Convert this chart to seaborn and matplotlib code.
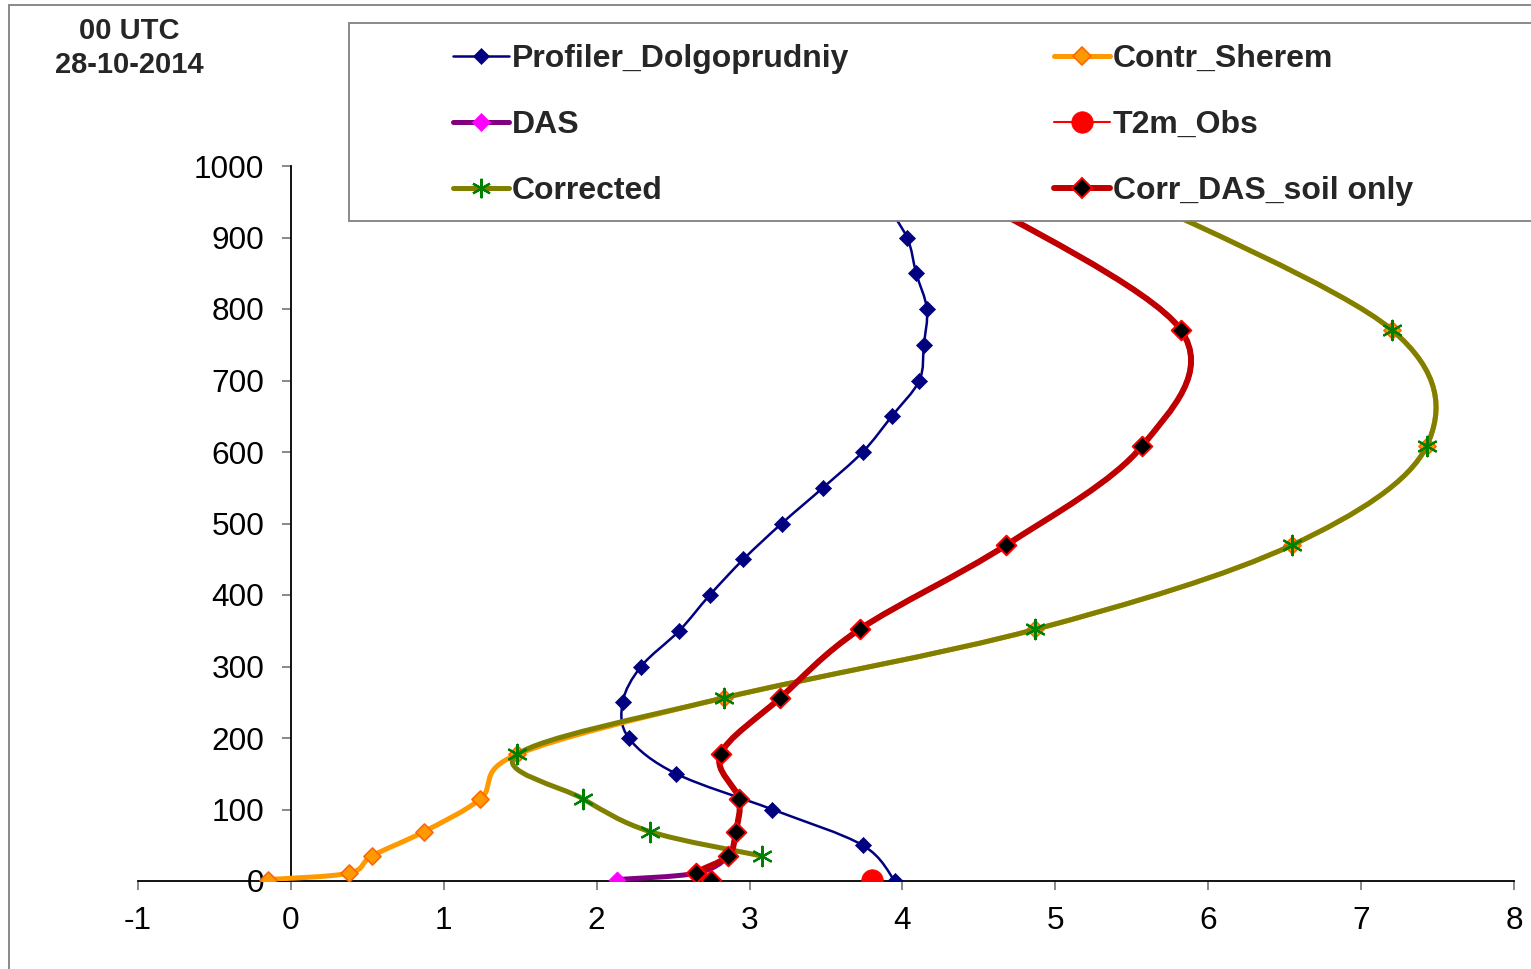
import numpy as np
import pandas as pd
import matplotlib
matplotlib.use("Agg")
import matplotlib.pyplot as plt
from matplotlib.path import Path
from matplotlib.patches import PathPatch, Rectangle
from matplotlib.lines import Line2D
import seaborn as sns

# profiler levels (m) and temperatures (C)
prof_h = [0, 50, 100, 150, 200, 250, 300, 350, 400, 450, 500, 550, 600,
          650, 700, 750, 800, 850, 900, 950]
prof_t = [3.95, 3.74, 3.15, 2.52, 2.21, 2.17, 2.29, 2.54, 2.74, 2.96, 3.21,
          3.48, 3.74, 3.93, 4.11, 4.14, 4.16, 4.09, 4.03, 3.88]

# model levels
mod_h = [2, 11, 35, 69, 115, 177, 256, 352, 470, 609, 771, 960]
contr_t = [-0.15, 0.38, 0.53, 0.87, 1.24, 1.48, 2.83, 4.87, 6.55, 7.43, 7.20, 5.50]
das_t = [2.13, 2.65, 2.86, 2.91, 2.93, 2.81, 3.20, 3.72, 4.68, 5.57, 5.82, 4.43]
corr_das_t = [2.75, 2.65, 2.86, 2.91, 2.93, 2.81, 3.20, 3.72, 4.68, 5.57, 5.82, 4.43]

corr_h = [35, 69, 115, 177, 256, 352, 470, 609, 771, 960]
corr_t = [3.08, 2.35, 1.91, 1.48, 2.83, 4.87, 6.55, 7.43, 7.20, 5.50]

t2m_h = [2]
t2m_t = [3.80]

x_ticks = [-1, 0, 1, 2, 3, 4, 5, 6, 7, 8]
y_ticks = [0, 100, 200, 300, 400, 500, 600, 700, 800, 900, 1000]


def smooth_path(xs, ys):
    # Excel-like smoothed line: Catmull-Rom segments as cubic Bezier curves
    pts = np.column_stack([xs, ys]).astype(float)
    n = len(pts)
    verts = [pts[0]]
    codes = [Path.MOVETO]
    for i in range(n - 1):
        p0 = pts[i - 1] if i > 0 else pts[i]
        p1, p2 = pts[i], pts[i + 1]
        p3 = pts[i + 2] if i + 2 < n else pts[i + 1]
        verts += [p1 + (p2 - p0) / 6, p2 - (p3 - p1) / 6, p2]
        codes += [Path.CURVE4] * 3
    return Path(verts, codes)


sns.set_style("white")
plt.rcParams['font.family'] = ['Liberation Sans', 'DejaVu Sans']
plt.rcParams['axes.unicode_minus'] = False

W, H = 1531, 969
fig = plt.figure(figsize=(W / 100, H / 100), dpi=100)
ax = fig.add_axes([138 / W, 88 / H, 1376 / W, 715 / H])

series = [
    # name, heights, temps, line colour, line width, marker, size, face, edge, edge width
    ("Profiler_Dolgoprudniy", prof_h, prof_t, "#000080", 1.8, "D", 8.2, "#000080", "#000080", 0.5),
    ("Contr_Sherem", mod_h, contr_t, "#FF9900", 3.6, "D", 8.7, "#FF9900", "#FF6600", 1.2),
    ("DAS", mod_h, das_t, "#800080", 3.6, "D", 8.7, "#FF00FF", "#FF00FF", 0.5),
    ("T2m_Obs", t2m_h, t2m_t, "#FF0000", 1.5, "o", 15.5, "#FF0000", "#FF0000", 0.5),
    ("Corrected", corr_h, corr_t, "#808000", 3.6, (6, 2, 0), 14.0, "#008000", "#008000", 1.6),
    ("Corr_DAS_soil only", mod_h, corr_das_t, "#C00000", 4.3, "D", 10.0, "#000000", "#FF0000", 1.4),
]

handles = []
for i, (name, hs, ts, lc, lw, mk, ms, fc, ec, ew) in enumerate(series):
    if len(hs) > 1:
        ax.add_patch(PathPatch(smooth_path(ts, hs), facecolor="none", edgecolor=lc,
                               lw=lw, capstyle="round", joinstyle="round",
                               zorder=2 + 2 * i))
    df = pd.DataFrame({"temp": ts, "height": hs})
    if mk == (6, 2, 0):
        sns.scatterplot(data=df, x="temp", y="height", ax=ax, marker=mk, s=ms ** 2,
                        color=ec, linewidth=ew, zorder=3 + 2 * i, legend=False)
    else:
        sns.scatterplot(data=df, x="temp", y="height", ax=ax, marker=mk, s=ms ** 2,
                        facecolor=fc, edgecolor=ec, linewidth=ew, zorder=3 + 2 * i,
                        legend=False)
    handles.append(Line2D([], [], color=lc, lw=lw, marker=mk, markersize=ms,
                          markerfacecolor=fc, markeredgecolor=ec, markeredgewidth=ew,
                          label=name))

ax.set_xlim(-1, 8)
ax.set_ylim(0, 1000)
ax.set_xticks(x_ticks)
ax.set_yticks(y_ticks)
ax.set_xlabel("")
ax.set_ylabel("")

for s in ["top", "right"]:
    ax.spines[s].set_visible(False)
ax.spines["left"].set_position(("data", 0))
ax.spines["bottom"].set_position(("data", 0))
for s in ["left", "bottom"]:
    ax.spines[s].set_color("black")
    ax.spines[s].set_linewidth(1.3)
ax.tick_params(axis="both", direction="out", length=6.5, width=1.3,
               color="#808080", labelsize=22.7, labelcolor="black")
ax.tick_params(axis="x", pad=11.5, bottom=True)
ax.tick_params(axis="y", pad=12.6, left=True)

# outer chart border and legend box
fig.patches.append(Rectangle((9 / W, -0.05), 1.1, (H - 5) / H + 0.05,
                             transform=fig.transFigure, facecolor="none",
                             edgecolor="#808080", lw=1.3, zorder=1))
fig.patches.append(Rectangle((349 / W, (H - 221) / H), 1.0, 198 / H,
                             transform=fig.transFigure, facecolor="white",
                             edgecolor="#808080", lw=1.3, zorder=4))

order = [0, 2, 4, 1, 3, 5]
fig.legend([handles[k] for k in order], [handles[k].get_label() for k in order],
           ncol=2, loc="upper left", bbox_to_anchor=(453 / W, 1 - 44 / H),
           frameon=False, borderpad=0, borderaxespad=0,
           prop={"size": 23, "weight": "bold"}, handlelength=1.74,
           handletextpad=0.1, columnspacing=6.42, labelspacing=1.13)

fig.text(129 / W, 1 - 31 / H, "00 UTC", ha="center", va="center",
         fontsize=21, fontweight="bold")
fig.text(129 / W, 1 - 65 / H, "28-10-2014", ha="center", va="center",
         fontsize=21, fontweight="bold")

fig.savefig("out.png", dpi=100)
